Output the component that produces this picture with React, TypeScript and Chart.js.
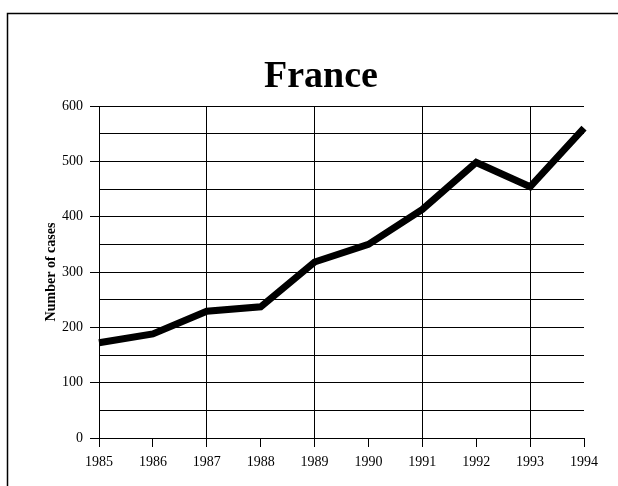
import React, { useEffect, useRef } from "react";
import { Chart, registerables } from "chart.js";

Chart.register(...registerables);

const chartTitle = "France";
const yAxisTitle = "Number of cases";
const years = ["1985", "1986", "1987", "1988", "1989", "1990", "1991", "1992", "1993", "1994"];
const cases = [172, 188, 229, 237, 318, 350, 413, 498, 454, 560];
const yMin = 0;
const yMax = 600;
const yStep = 50;
const yLabelStep = 100;

const FONT = "'Liberation Serif', 'Times New Roman', serif";

const framePlugin = {
  id: "frameAndTitle",
  beforeDraw(chart: any) {
    const ctx = chart.ctx;
    ctx.save();
    ctx.fillStyle = "#ffffff";
    ctx.fillRect(0, 0, chart.width, chart.height);
    ctx.strokeStyle = "#000000";
    ctx.lineWidth = 1.5;
    ctx.beginPath();
    ctx.moveTo(7.5, chart.height);
    ctx.lineTo(7.5, 13.5);
    ctx.lineTo(chart.width, 13.5);
    ctx.stroke();
    ctx.fillStyle = "#000000";
    ctx.font = `bold 38px ${FONT}`;
    ctx.textAlign = "center";
    ctx.textBaseline = "alphabetic";
    ctx.fillText(chartTitle, 321, 87);
    ctx.restore();
  },
};

export default function App() {
  const ref = useRef<HTMLCanvasElement>(null);

  useEffect(() => {
    if (!ref.current) return;
    const chart = new Chart(ref.current, {
      type: "line",
      data: {
        labels: years,
        datasets: [
          {
            data: cases,
            borderColor: "#000000",
            backgroundColor: "#000000",
            borderWidth: 7,
            pointRadius: 0,
            tension: 0,
            fill: false,
          },
        ],
      },
      options: {
        animation: false,
        responsive: false,
        devicePixelRatio: 1,
        layout: { padding: { top: 106, right: 34, bottom: 0, left: 0 } },
        plugins: {
          legend: { display: false },
          title: { display: false },
          tooltip: { enabled: false },
        },
        scales: {
          x: {
            type: "category",
            offset: false,
            border: { display: true, color: "#000000", width: 1 },
            grid: {
              display: true,
              drawOnChartArea: true,
              drawTicks: true,
              tickLength: 9,
              color: (c: any) => (c.index % 2 === 0 && c.index !== 0 ? "#000000" : "rgba(0,0,0,0)"),
              tickColor: "#000000",
              lineWidth: 1,
            },
            ticks: {
              color: "#000000",
              font: { family: FONT, size: 14 },
              padding: 7,
              maxRotation: 0,
              autoSkip: false,
            },
            afterFit: (s: any) => {
              s.height = 48;
            },
          },
          y: {
            min: yMin,
            max: yMax,
            border: { display: true, color: "#000000", width: 1 },
            grid: {
              display: true,
              drawTicks: true,
              tickLength: 9,
              color: "#000000",
              tickColor: (c: any) =>
                c.tick && c.tick.value % yLabelStep === 0 ? "#000000" : "rgba(0,0,0,0)",
              lineWidth: 1,
            },
            ticks: {
              stepSize: yStep,
              color: "#000000",
              font: { family: FONT, size: 14 },
              padding: 7,
              callback: (v: any) => (Number(v) % yLabelStep === 0 ? String(v) : ""),
            },
            title: {
              display: true,
              text: yAxisTitle,
              color: "#000000",
              font: { family: FONT, size: 14, weight: "bold" },
              padding: { top: 43, bottom: 0 },
            },
            afterFit: (s: any) => {
              s.width = 99;
            },
          },
        },
      },
      plugins: [framePlugin],
    });
    return () => chart.destroy();
  }, []);

  return (
    <canvas
      ref={ref}
      width={618}
      height={486}
      style={{ position: "fixed", left: 0, top: 0, width: 618, height: 486, display: "block" }}
    />
  );
}
